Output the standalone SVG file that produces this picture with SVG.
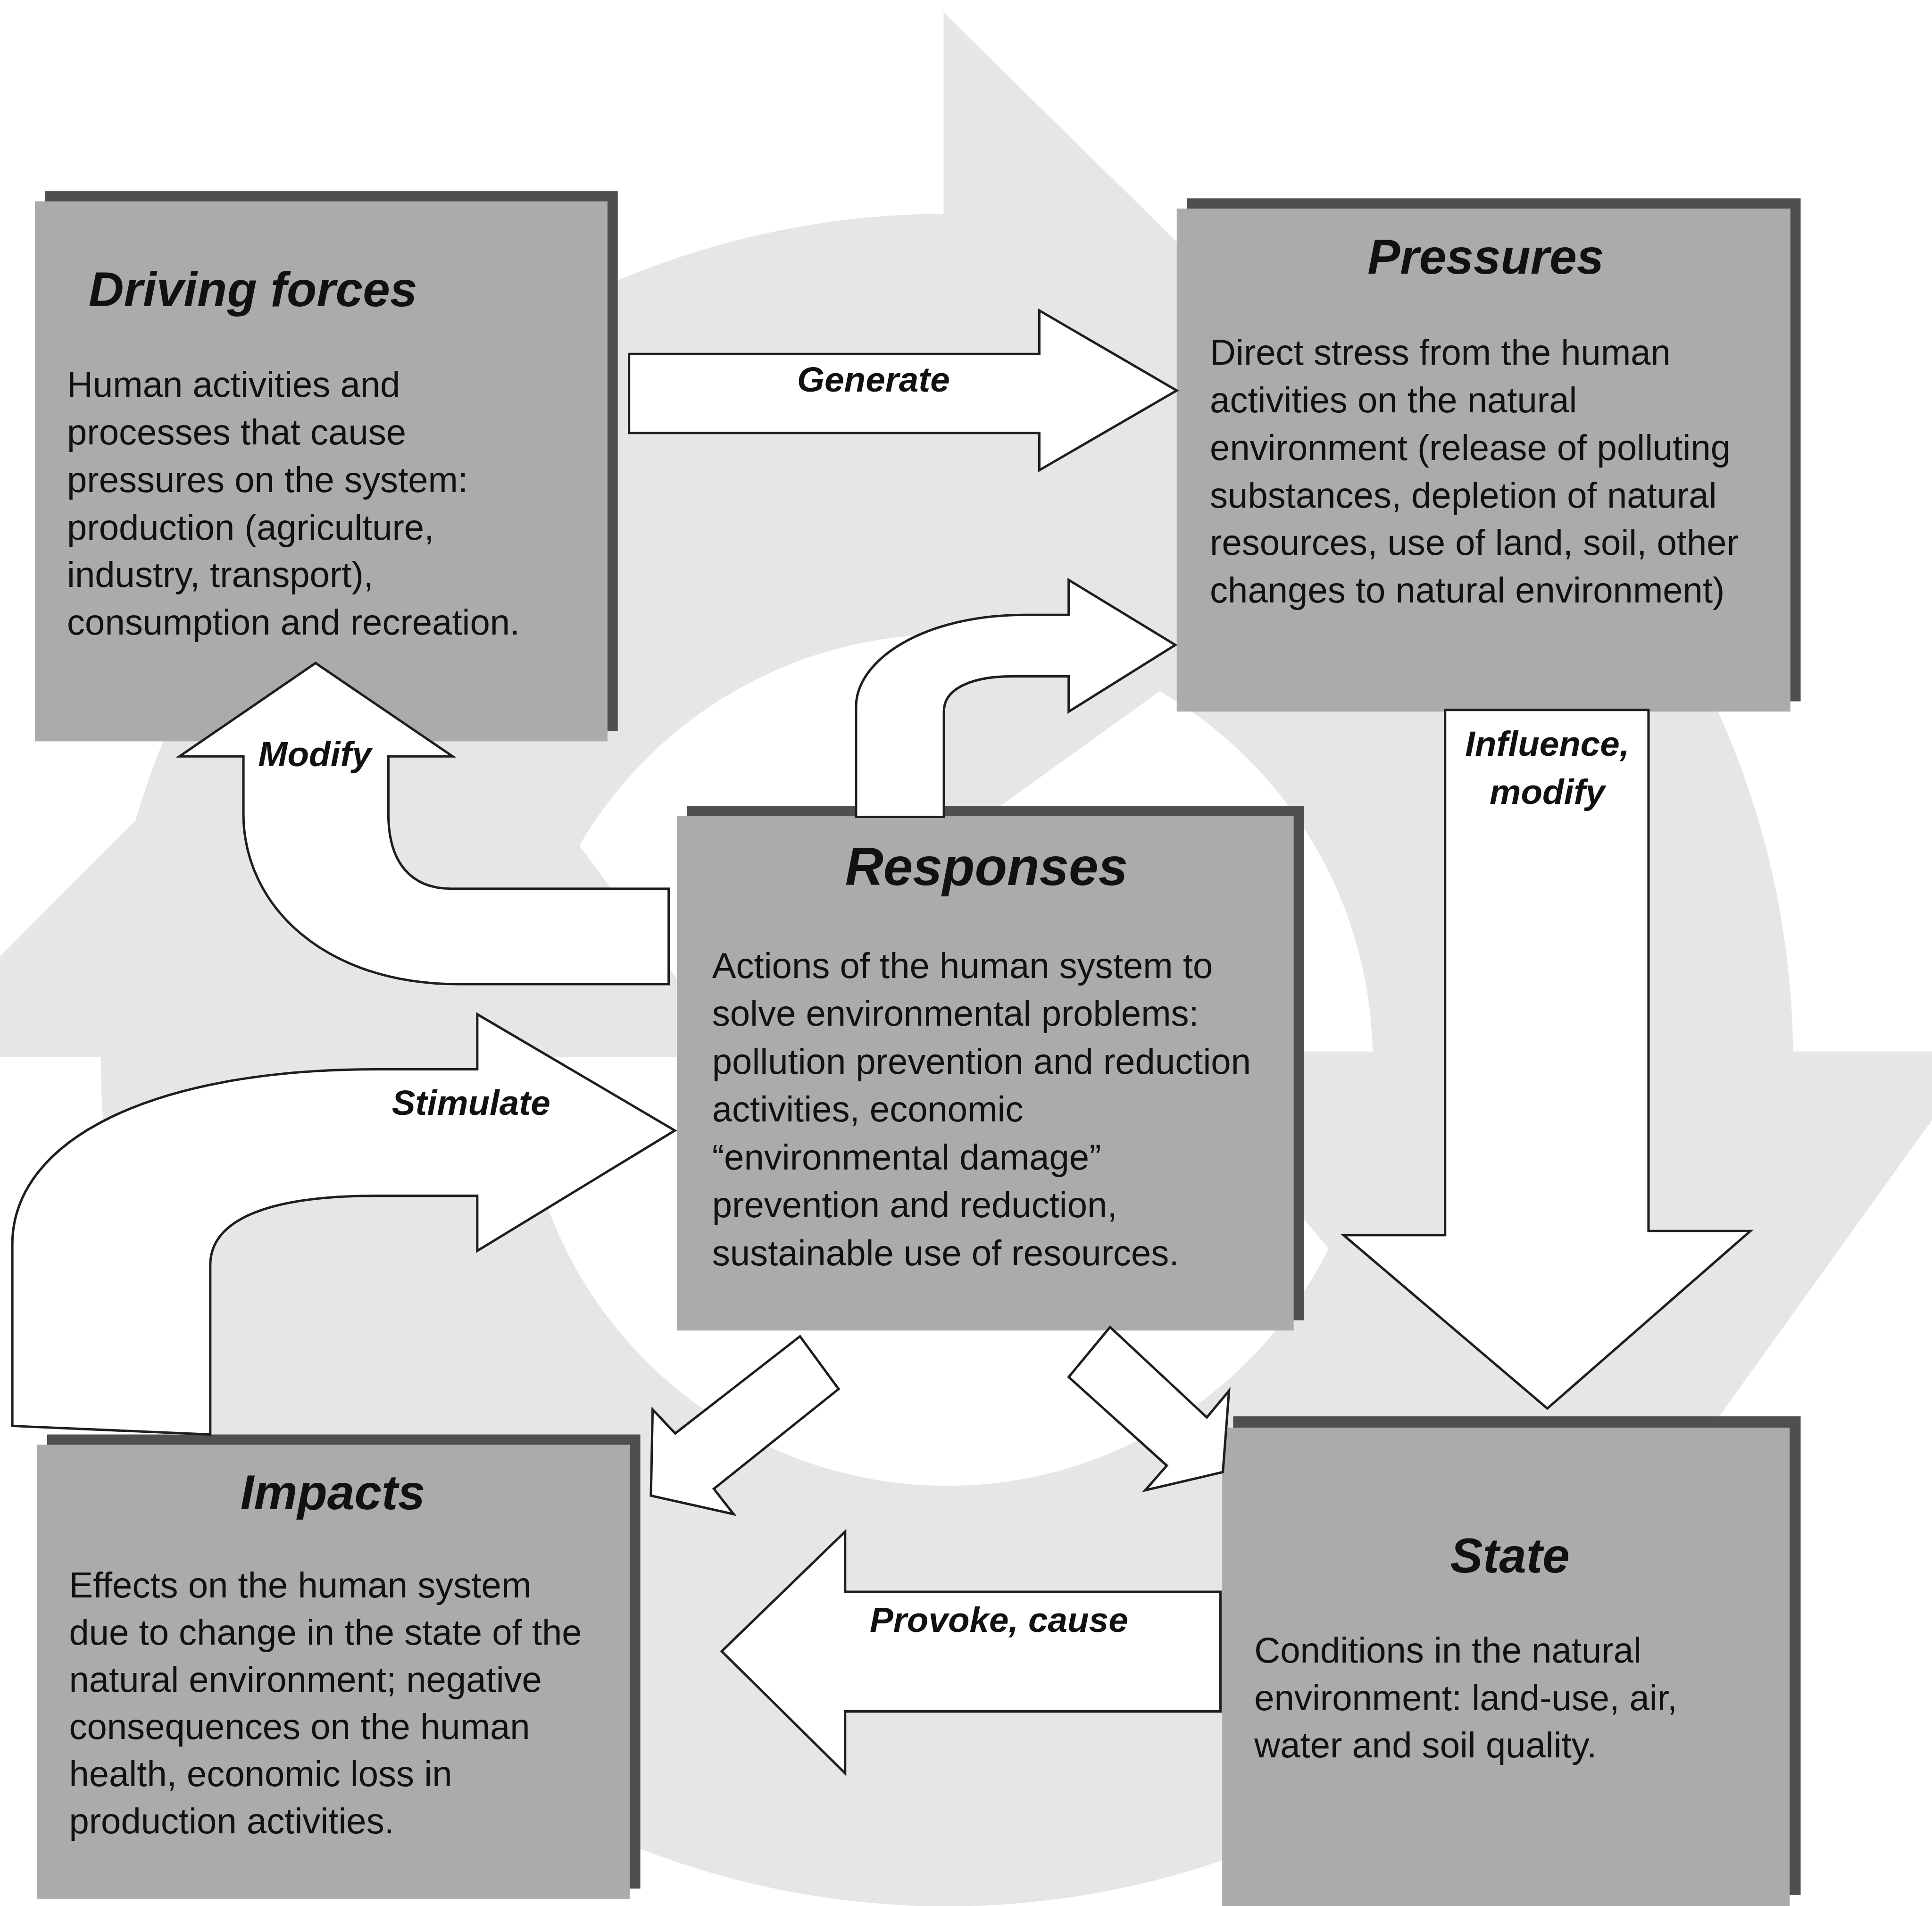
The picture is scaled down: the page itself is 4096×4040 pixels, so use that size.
<svg xmlns="http://www.w3.org/2000/svg" width="4096" height="4040" viewBox="0 0 4096 4040">
<style>
.bg{fill:#e6e6e6}
.box{fill:#ababab}
.sh{fill:#4f4f4f}
.arr{fill:#ffffff;stroke:#1e1e1e;stroke-width:7;stroke-linejoin:miter}
.t{font-family:"Liberation Sans",Arial,sans-serif;font-weight:bold;font-style:italic;font-size:143px;fill:#111}
.b{font-family:"Liberation Sans",Arial,sans-serif;font-size:105px;fill:#111}
.l{font-family:"Liberation Sans",Arial,sans-serif;font-weight:bold;font-style:italic;font-size:103px;fill:#111;text-anchor:middle}
</style>
<rect width="4096" height="4040" fill="#ffffff"/>
<g transform="scale(0.7248)">
<g id="background-cycle">
<path class="bg" fill-rule="evenodd" d="M295,3100 A2475,2475 0 1 0 5245,3100 A2475,2475 0 1 0 295,3100 Z M1525,3100 A1245,1245 0 1 1 4015,3100 A1245,1245 0 1 1 1525,3100 Z"/>
<polygon class="bg" points="2760,36 4192,1445 2760,2477"/>
<polygon class="bg" points="5795,3075 4700,4600 3393,3075"/>
<polygon class="bg" points="-294,3092 1115,1678 2147,3092"/>
</g>
<g id="driving-forces">
<rect class="sh" x="132" y="559" width="1675" height="1579"/>
<rect class="box" x="102" y="589" width="1675" height="1579"/>
<text class="t" x="259" y="895">Driving forces</text>
<text class="b" x="196" y="1161">Human activities and</text>
<text class="b" x="196" y="1300">processes that cause</text>
<text class="b" x="196" y="1439">pressures on the system:</text>
<text class="b" x="196" y="1578">production (agriculture,</text>
<text class="b" x="196" y="1717">industry, transport),</text>
<text class="b" x="196" y="1856">consumption and recreation.</text>
</g>
<g id="pressures">
<rect class="sh" x="3472" y="580" width="1795" height="1471"/>
<rect class="box" x="3442" y="610" width="1795" height="1471"/>
<text class="t" x="4000" y="800">Pressures</text>
<text class="b" x="3539" y="1067">Direct stress from the human</text>
<text class="b" x="3539" y="1206">activities on the natural</text>
<text class="b" x="3539" y="1345">environment (release of polluting</text>
<text class="b" x="3539" y="1484">substances, depletion of natural</text>
<text class="b" x="3539" y="1623">resources, use of land, soil, other</text>
<text class="b" x="3539" y="1762">changes to natural environment)</text>
</g>
<g id="responses">
<rect class="sh" x="2010" y="2357" width="1804" height="1504"/>
<rect class="box" x="1980" y="2387" width="1804" height="1504"/>
<text class="t" x="2472" y="2588" style="font-size:155px">Responses</text>
<text class="b" x="2083" y="2860">Actions of the human system to</text>
<text class="b" x="2083" y="3000">solve environmental problems:</text>
<text class="b" x="2083" y="3140">pollution prevention and reduction</text>
<text class="b" x="2083" y="3280">activities, economic</text>
<text class="b" x="2083" y="3420">“environmental damage”</text>
<text class="b" x="2083" y="3560">prevention and reduction,</text>
<text class="b" x="2083" y="3700">sustainable use of resources.</text>
</g>
<g id="impacts">
<rect class="sh" x="138" y="4195" width="1735" height="1328"/>
<rect class="box" x="108" y="4225" width="1735" height="1328"/>
<text class="t" x="703" y="4414">Impacts</text>
<text class="b" x="202" y="4671">Effects on the human system</text>
<text class="b" x="202" y="4809">due to change in the state of the</text>
<text class="b" x="202" y="4947">natural environment; negative</text>
<text class="b" x="202" y="5085">consequences on the human</text>
<text class="b" x="202" y="5223">health, economic loss in</text>
<text class="b" x="202" y="5361">production activities.</text>
</g>
<g id="state">
<rect class="sh" x="3607" y="4142" width="1660" height="1400"/>
<rect class="box" x="3575" y="4175" width="1660" height="1400"/>
<text class="t" x="4242" y="4598">State</text>
<text class="b" x="3669" y="4862">Conditions in the natural</text>
<text class="b" x="3669" y="5001">environment: land-use, air,</text>
<text class="b" x="3669" y="5140">water and soil quality.</text>
</g>
<g id="connectors">
<path class="arr" d="M1840,1035 L3040,1035 L3040,908 L3442,1142 L3040,1375 L3040,1266 L1840,1266 Z"/>
<text class="l" x="2555" y="1145">Generate</text>
<path class="arr" d="M4227,2076 L4822,2076 L4822,3600 L5120,3600 L4526,4119 L3930,3612 L4227,3612 Z"/>
<text class="l" x="4526" y="2210">Influence,</text>
<text class="l" x="4526" y="2351">modify</text>
<path class="arr" d="M923,1939 L1324,2212 L1136,2212 L1136,2380 C1136,2520 1200,2599 1320,2599 L1956,2599 L1956,2878 L1340,2878 C950,2878 712,2650 712,2380 L712,2212 L525,2212 Z"/>
<text class="l" x="921" y="2240">Modify</text>
<path class="arr" d="M2504,2389 L2504,2067 C2504,1930 2700,1798 3000,1798 L3126,1798 L3126,1696 L3438,1886 L3126,2081 L3126,1978 L2960,1978 C2850,1978 2761,2010 2761,2080 L2761,2389 Z"/>
<path class="arr" d="M1396,3127 L1396,2966 L1974,3306 L1396,3658 L1396,3497 L1100,3497 C800,3497 615,3560 615,3700 L615,4195 L36,4170 L36,3640 C36,3330 450,3127 1100,3127 Z"/>
<text class="l" x="1378" y="3260">Stimulate</text>
<path class="arr" d="M3570,4655 L2472,4655 L2472,4479 L2111,4829 L2472,5186 L2472,5005 L3570,5005 Z"/>
<text class="l" x="2922" y="4772">Provoke, cause</text>
<path class="arr" d="M2340,3908 L2453,4062 L2088,4354 L2146,4428 L1904,4374 L1909,4122 L1975,4192 Z"/>
<path class="arr" d="M3247,3881 L3126,4027 L3413,4286 L3350,4358 L3577,4305 L3595,4067 L3530,4145 Z"/>
</g>
</g>
</svg>
